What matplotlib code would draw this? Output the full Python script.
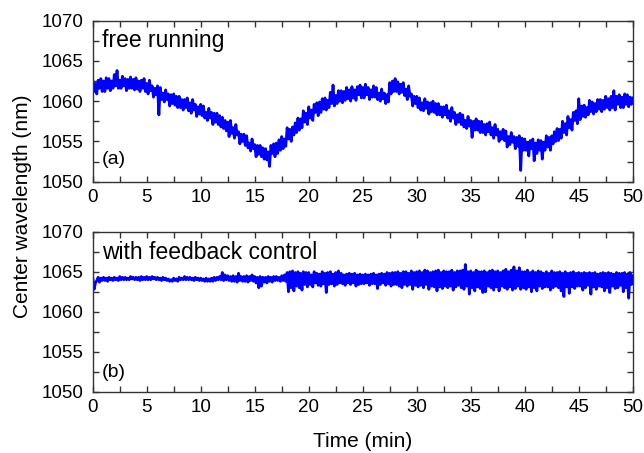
import numpy as np
import matplotlib.pyplot as plt
from matplotlib.ticker import MultipleLocator

plt.rcParams['font.family'] = ['Liberation Sans', 'DejaVu Sans']

# center wavelength (nm), 8 samples per minute
free_running = [
    1062.6, 1061.2, 1062.2, 1060.9, 1062.6, 1061.6, 1062.8, 1061.2,  # 0
    1062.5, 1061.2, 1062.9, 1061.6, 1062.8, 1061.3, 1062.5, 1061.6,
    1063.3, 1061.9, 1063.8, 1061.6, 1062.6, 1061.6, 1063.1, 1061.9,
    1062.8, 1061.3, 1062.7, 1061.6, 1063.0, 1061.6, 1062.7, 1061.4,
    1062.9, 1061.5, 1062.5, 1061.2, 1062.6, 1061.6, 1062.8, 1061.2,
    1062.2, 1060.9, 1062.6, 1061.3, 1061.9, 1060.5, 1061.6, 1060.8,  # 5
    1061.9, 1058.3, 1061.7, 1060.2, 1061.0, 1059.9, 1061.4, 1060.2,
    1060.9, 1059.4, 1060.8, 1059.7, 1060.9, 1059.5, 1060.6, 1059.2,
    1060.6, 1059.2, 1060.2, 1058.9, 1060.2, 1059.2, 1060.4, 1058.8,
    1059.8, 1058.5, 1060.2, 1058.9, 1059.6, 1058.1, 1059.3, 1058.4,
    1059.6, 1058.2, 1059.4, 1057.9, 1058.6, 1057.6, 1059.1, 1057.9,  # 10
    1058.6, 1057.1, 1058.5, 1057.4, 1058.5, 1057.1, 1058.2, 1056.8,
    1058.0, 1056.6, 1057.6, 1056.3, 1057.4, 1055.6, 1057.6, 1056.0,
    1056.7, 1055.4, 1057.1, 1055.8, 1056.2, 1054.7, 1055.9, 1055.0,
    1055.9, 1054.5, 1055.7, 1054.2, 1054.8, 1053.8, 1055.3, 1054.1,
    1054.6, 1053.1, 1054.5, 1053.4, 1054.5, 1053.1, 1054.2, 1052.8,  # 15
    1054.1, 1052.7, 1053.7, 1051.9, 1054.5, 1053.5, 1054.7, 1053.1,
    1054.8, 1053.5, 1055.2, 1053.9, 1055.6, 1054.1, 1055.3, 1054.4,
    1056.7, 1055.3, 1056.5, 1055.0, 1056.8, 1055.8, 1057.3, 1056.1,
    1057.9, 1056.4, 1057.8, 1056.7, 1058.8, 1057.4, 1058.5, 1057.1,
    1059.3, 1057.9, 1058.9, 1057.6, 1059.6, 1058.6, 1059.8, 1058.2,  # 20
    1059.9, 1058.6, 1060.3, 1059.0, 1060.4, 1058.9, 1060.1, 1059.2,
    1061.1, 1059.7, 1062.0, 1059.4, 1060.7, 1059.7, 1061.3, 1060.0,
    1061.3, 1059.8, 1061.2, 1060.1, 1061.7, 1060.3, 1061.4, 1060.0,
    1061.8, 1060.4, 1061.4, 1060.1, 1061.8, 1060.8, 1062.0, 1060.4,
    1061.7, 1060.4, 1062.1, 1060.8, 1061.7, 1060.2, 1061.4, 1060.5,  # 25
    1061.9, 1060.5, 1061.7, 1060.2, 1061.0, 1060.0, 1061.5, 1060.3,
    1061.0, 1059.7, 1060.8, 1059.9, 1062.3, 1060.9, 1062.5, 1061.2,
    1062.8, 1061.2, 1062.4, 1060.9, 1062.1, 1061.1, 1062.3, 1060.7,
    1061.5, 1060.2, 1061.9, 1060.6, 1060.9, 1059.4, 1060.6, 1059.7,
    1060.6, 1059.2, 1060.4, 1058.9, 1059.8, 1058.8, 1060.3, 1059.1,  # 30
    1059.9, 1058.4, 1059.8, 1058.7, 1060.0, 1058.6, 1059.7, 1058.3,
    1059.7, 1058.3, 1059.3, 1058.0, 1059.3, 1058.3, 1059.5, 1057.9,
    1058.8, 1057.5, 1059.2, 1057.9, 1058.6, 1057.1, 1058.3, 1057.4,
    1058.5, 1057.1, 1058.3, 1056.8, 1057.6, 1056.6, 1058.1, 1056.9,
    1057.6, 1055.5, 1057.5, 1056.4, 1057.8, 1056.4, 1057.5, 1056.1,  # 35
    1057.5, 1056.1, 1057.1, 1055.8, 1057.2, 1056.2, 1057.4, 1055.8,
    1056.7, 1055.4, 1057.1, 1055.8, 1056.5, 1055.0, 1056.2, 1055.3,
    1056.5, 1055.1, 1056.3, 1054.3, 1055.6, 1054.6, 1056.1, 1054.9,
    1055.6, 1054.1, 1055.5, 1054.4, 1055.7, 1051.4, 1055.4, 1053.9,
    1055.3, 1053.9, 1054.9, 1053.2, 1055.1, 1054.1, 1055.3, 1052.6,  # 40
    1054.8, 1053.5, 1055.2, 1053.9, 1055.1, 1052.8, 1054.9, 1053.9,
    1055.7, 1054.3, 1055.5, 1053.9, 1055.7, 1054.7, 1056.2, 1055.0,
    1056.6, 1055.1, 1056.5, 1055.4, 1057.5, 1056.1, 1057.2, 1055.8,
    1058.1, 1056.7, 1057.7, 1056.4, 1058.6, 1057.6, 1058.8, 1057.2,
    1060.3, 1057.7, 1059.4, 1058.1, 1059.5, 1058.0, 1059.2, 1058.3,  # 45
    1060.1, 1058.7, 1059.9, 1058.4, 1059.7, 1058.7, 1060.2, 1059.0,
    1060.2, 1058.7, 1060.1, 1059.0, 1060.6, 1059.2, 1060.3, 1058.9,
    1060.6, 1059.2, 1061.3, 1058.9, 1060.6, 1059.6, 1060.8, 1059.2,
    1060.5, 1059.2, 1060.9, 1059.6, 1060.8, 1059.3, 1060.5, 1059.6,
    1060.4,                                                          # 50
]

feedback = [
    1064.3, 1062.8, 1063.6, 1063.9, 1064.3, 1063.7, 1064.2, 1063.9,  # 0
    1064.3, 1063.9, 1064.2, 1063.8, 1064.3, 1064.0, 1064.2, 1063.9,
    1064.3, 1064.0, 1064.2, 1063.9, 1064.4, 1064.0, 1064.3, 1064.0,
    1064.3, 1064.0, 1064.2, 1064.0, 1064.4, 1064.1, 1064.3, 1064.0,
    1064.3, 1064.0, 1064.3, 1063.9, 1064.4, 1064.0, 1064.3, 1064.0,
    1064.4, 1064.0, 1064.3, 1064.0, 1064.4, 1064.1, 1064.3, 1064.0,  # 5
    1064.3, 1064.0, 1064.2, 1063.9, 1064.3, 1064.0, 1064.2, 1063.9,
    1064.1, 1063.8, 1064.0, 1063.8, 1064.2, 1063.9, 1064.1, 1063.8,
    1064.3, 1064.0, 1064.2, 1064.0, 1064.4, 1064.0, 1064.3, 1064.0,
    1064.3, 1064.0, 1064.2, 1063.9, 1064.3, 1064.0, 1064.2, 1063.9,
    1064.2, 1063.9, 1064.1, 1063.8, 1064.2, 1063.8, 1064.1, 1063.8,  # 10
    1064.2, 1063.8, 1064.3, 1063.9, 1064.3, 1064.0, 1064.4, 1064.0,
    1064.9, 1063.9, 1064.6, 1064.0, 1064.5, 1063.9, 1064.4, 1063.8,
    1064.5, 1063.8, 1064.4, 1063.7, 1064.8, 1063.9, 1064.4, 1063.8,
    1064.4, 1063.8, 1064.5, 1063.7, 1064.4, 1063.9, 1064.6, 1063.8,
    1064.4, 1063.6, 1064.3, 1063.0, 1064.4, 1063.2, 1064.3, 1063.7,  # 15
    1064.3, 1063.6, 1064.4, 1063.8, 1064.3, 1063.7, 1064.4, 1063.9,
    1064.4, 1063.9, 1064.3, 1063.8, 1064.5, 1063.9, 1064.6, 1063.8,
    1064.9, 1062.5, 1065.0, 1063.0, 1065.1, 1062.6, 1064.9, 1063.2,
    1065.0, 1063.0, 1064.8, 1062.7, 1065.0, 1063.4, 1064.9, 1063.1,
    1064.9, 1063.4, 1064.6, 1063.1, 1065.0, 1063.6, 1064.8, 1063.3,  # 20
    1064.7, 1063.2, 1065.0, 1063.5, 1064.8, 1062.4, 1064.9, 1063.4,
    1065.0, 1063.5, 1064.7, 1063.2, 1064.9, 1063.4, 1065.1, 1063.6,
    1064.8, 1063.5, 1064.6, 1063.3, 1064.7, 1063.6, 1064.8, 1063.4,
    1064.7, 1063.6, 1064.8, 1063.2, 1064.6, 1063.4, 1064.7, 1063.5,
    1064.6, 1063.5, 1064.7, 1063.6, 1064.6, 1063.3, 1064.7, 1063.5,  # 25
    1064.8, 1063.5, 1064.6, 1062.9, 1064.7, 1063.4, 1064.8, 1063.6,
    1064.7, 1063.3, 1064.9, 1063.5, 1064.8, 1063.2, 1064.9, 1063.4,
    1064.9, 1063.4, 1065.0, 1063.2, 1064.8, 1063.0, 1065.0, 1063.4,
    1065.0, 1063.2, 1064.8, 1063.4, 1065.1, 1062.8, 1064.9, 1063.3,
    1065.0, 1063.1, 1065.1, 1063.3, 1064.9, 1063.0, 1065.2, 1063.4,  # 30
    1065.1, 1062.8, 1064.9, 1063.2, 1065.0, 1063.1, 1065.1, 1062.6,
    1065.2, 1063.1, 1064.9, 1062.9, 1065.1, 1063.2, 1065.0, 1063.0,
    1065.0, 1063.2, 1065.2, 1062.7, 1064.9, 1063.1, 1065.1, 1063.3,
    1065.1, 1063.0, 1065.2, 1062.8, 1065.9, 1063.2, 1065.0, 1062.2,
    1065.1, 1063.0, 1064.9, 1062.6, 1065.2, 1063.1, 1065.0, 1062.9,  # 35
    1065.0, 1062.4, 1065.1, 1062.5, 1064.9, 1063.2, 1065.1, 1063.0,
    1065.2, 1062.7, 1065.0, 1063.1, 1065.1, 1062.6, 1064.9, 1063.2,
    1065.1, 1063.0, 1065.3, 1062.8, 1065.0, 1063.1, 1065.2, 1062.7,
    1065.6, 1062.9, 1065.1, 1063.2, 1065.5, 1062.8, 1065.0, 1063.0,
    1065.0, 1062.8, 1065.2, 1063.1, 1064.9, 1062.5, 1065.1, 1063.0,  # 40
    1064.9, 1062.6, 1065.1, 1063.2, 1065.0, 1062.9, 1064.8, 1063.1,
    1065.0, 1063.1, 1064.8, 1062.7, 1065.1, 1063.0, 1064.9, 1063.2,
    1064.9, 1063.0, 1065.0, 1062.6, 1064.8, 1061.9, 1065.0, 1063.1,
    1064.8, 1062.3, 1064.9, 1063.1, 1065.0, 1062.9, 1064.8, 1063.2,
    1064.9, 1063.2, 1064.8, 1062.7, 1064.9, 1063.0, 1064.8, 1063.3,  # 45
    1064.9, 1062.2, 1064.8, 1063.1, 1064.9, 1062.8, 1064.7, 1063.2,
    1064.8, 1063.1, 1064.9, 1062.6, 1064.8, 1063.0, 1064.9, 1062.4,
    1064.8, 1063.2, 1064.7, 1062.9, 1064.9, 1063.0, 1064.8, 1063.3,
    1064.8, 1062.5, 1064.9, 1063.0, 1064.7, 1061.7, 1064.9, 1063.4,
    1064.5,                                                          # 50
]

time_a = np.linspace(0, 50, len(free_running))
time_b = np.linspace(0, 50, len(feedback))

fig = plt.figure(figsize=(6.44, 4.53), dpi=100)
ax_a = fig.add_axes([0.144, 0.599, 0.8385, 0.3554])
ax_b = fig.add_axes([0.144, 0.1353, 0.8385, 0.3532])

panels = [(ax_a, time_a, free_running, 'free running', 0.835, '(a)', 0.135),
          (ax_b, time_b, feedback, 'with feedback control', 0.8275, '(b)', 0.12)]

for ax, t, y, label, ly, tag, ty in panels:
    ax.plot(t, y, color='#0000ff', lw=2.0)
    ax.set_xlim(0, 50)
    ax.set_ylim(1050, 1070)
    ax.xaxis.set_major_locator(MultipleLocator(5))
    ax.xaxis.set_minor_locator(MultipleLocator(2.5))
    ax.yaxis.set_major_locator(MultipleLocator(5))
    ax.yaxis.set_minor_locator(MultipleLocator(2.5))
    ax.tick_params(which='both', direction='in', top=True, right=True,
                   length=4, width=1, color='#333333', labelsize=13.5)
    ax.tick_params(axis='y', pad=7)
    ax.tick_params(axis='x', pad=5)
    for s in ax.spines.values():
        s.set_linewidth(1)
        s.set_color('#333333')
    ax.text(0.017, ly, label, transform=ax.transAxes, fontsize=16.5, va='baseline')
    ax.text(0.017, ty, tag, transform=ax.transAxes, fontsize=14, va='center')

ax_b.set_xlabel('Time (min)', fontsize=15, labelpad=12)
fig.text(0.035, 0.545, 'Center wavelength (nm)', rotation=90, fontsize=15,
         ha='center', va='center')

plt.savefig('out.png', dpi=100)
